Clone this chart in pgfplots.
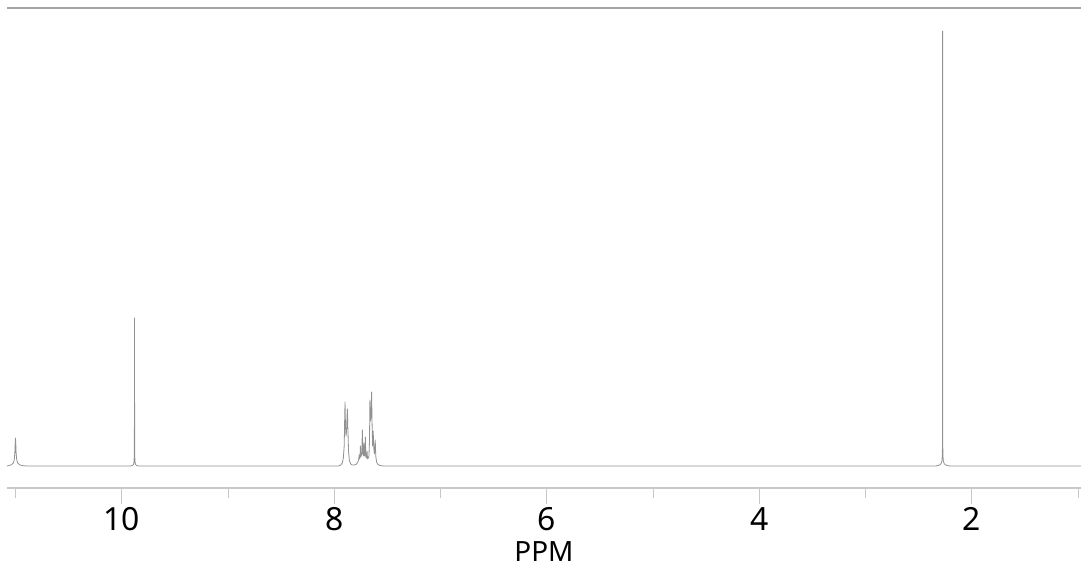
\documentclass[border=0pt]{standalone}
\usepackage{fontspec}
\setmainfont{Noto Sans}
\usepackage{pgfplots}
\pgfplotsset{compat=1.18}
\definecolor{spec}{RGB}{145,145,145}
\definecolor{axl}{RGB}{200,200,200}
\definecolor{topl}{RGB}{165,165,165}
\begin{document}
\begin{tikzpicture}
\begin{axis}[
  scale only axis,
  width=1074bp, height=480bp,
  x dir=reverse,
  xmin=0.974, xmax=11.08,
  ymin=-22, ymax=458,
  axis x line*=bottom,
  axis y line=none,
  x axis line style={draw=axl, line width=1.4bp},
  xtick={2,4,6,8,10},
  minor xtick={1,3,5,7,9,11},
  tick align=outside,
  major tick length=16bp,
  minor tick length=10bp,
  every tick/.style={draw=axl, line width=1bp},
  tick label style={font=\fontsize{32}{36}\selectfont},
  /pgf/number format/assume math mode=true,
  xlabel={PPM},
  xlabel style={font=\fontsize{28}{30}\selectfont, inner sep=0pt, at={(axis description cs:0.5,0)}, anchor=base, yshift=-73bp},
  clip=false,
]
\addplot[color=spec, line width=0.8bp, line join=round] coordinates {
(11.08,0) (11.06,0.5) (11.04,1.2) (11.02,3) (11.012,6) (11.006,13) (11.003,22) (11.0,28) (10.997,22) (10.994,13) (10.988,6) (10.98,3) (10.96,1.2) (10.94,0.5) (10.90,0)
(9.92,0) (9.90,0.5) (9.89,1.5) (9.886,3) (9.883,8) (9.881,40) (9.880,148) (9.879,40) (9.877,8) (9.874,3) (9.87,1.5) (9.86,0.5) (9.84,0)
(7.96,0) (7.94,1) (7.925,3) (7.915,8) (7.907,20) (7.902,50) (7.899,64) (7.895,40) (7.890,30) (7.885,35) (7.880,50) (7.877,57) (7.873,40) (7.866,15) (7.858,5) (7.845,2) (7.830,1)
(7.810,1) (7.790,2) (7.778,4) (7.770,7) (7.767,11) (7.763,7) (7.758,9) (7.755,20) (7.751,9) (7.742,12) (7.736,36) (7.731,12) (7.726,10) (7.721,23) (7.716,10) (7.712,12) (7.708,29) (7.703,9) (7.697,8) (7.692,15) (7.687,7) (7.680,8) (7.674,10) (7.669,25) (7.665,66) (7.660,45) (7.654,50) (7.649,74) (7.645,45) (7.640,20) (7.634,35) (7.629,18) (7.622,12) (7.615,26) (7.610,10) (7.602,4) (7.590,1.5) (7.57,0.5) (7.54,0)
(2.34,0) (2.32,0.5) (2.30,1.2) (2.29,2.5) (2.283,5) (2.279,10) (2.277,25) (2.276,435) (2.275,25) (2.273,10) (2.269,5) (2.262,2.5) (2.25,1.2) (2.23,0.5) (2.21,0)
(0.974,0)
};
\end{axis}
\draw[topl, line width=1.4bp] (0,480bp) -- (1074bp,480bp);
\pgfresetboundingbox
\path (-7bp,-78bp) rectangle (1074bp,488bp);
\end{tikzpicture}
\end{document}
